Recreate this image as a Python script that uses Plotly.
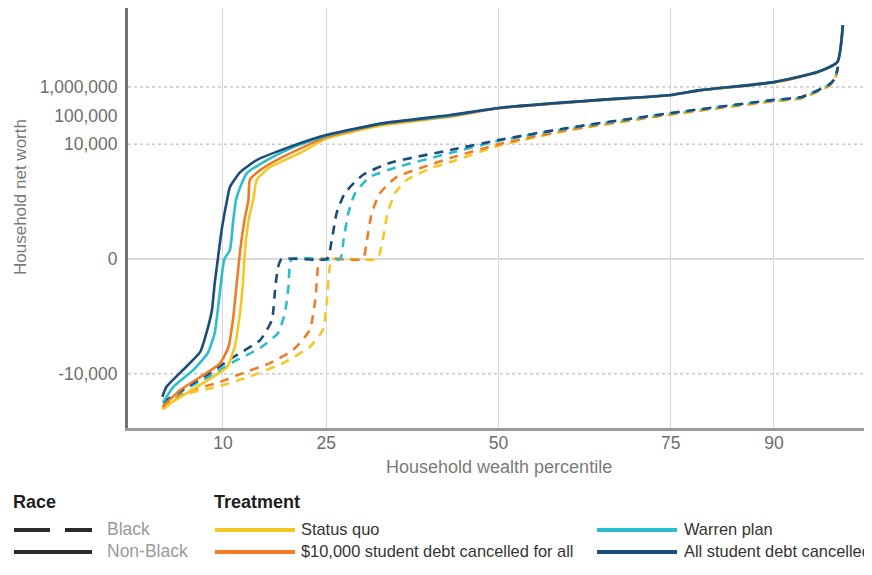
import numpy as np
import plotly.graph_objects as go

# ---------------- data (household net worth, dollars) ----------------
percentile_ticks = [10, 25, 50, 75, 90]
networth_ticks = [-10000, 0, 10000, 100000, 1000000]
networth_tick_labels = ["-10,000", "0", "10,000", "100,000", "1,000,000"]

treatments = ["Status quo", "$10,000 student debt cancelled for all",
              "Warren plan", "All student debt cancelled"]
colors = ["#F3C823", "#EE7D26", "#2BBDCB", "#1C4C7A"]

# Non-Black households (solid lines)
sq_nb_x = [1.2, 4.8, 8.6, 10.6, 11.7, 12.4, 12.9, 13.2, 13.8, 14.4, 14.9, 16.8, 21.2, 25, 33, 43, 50, 64.7, 75, 79.3, 90, 96.3, 99.2, 100]
sq_nb_y = [-158500, -46800, -12600, -5890, -1170, -104, -5.9, 1, 28, 115, 575, 1580, 5000, 15800, 45700, 91200,
           182000, 347000, 513000, 759000, 1445000, 3236000, 7244000, 144500000]

d10_nb_x = [1.2, 3.8, 7.6, 9.6, 10.8, 11.5, 12.0, 12.5, 13.2, 13.7, 13.9, 15.4, 18.7, 25, 33, 43, 50, 64.7, 75, 79.3, 90, 96.3, 99.2, 100]
d10_nb_y = [-144500, -37150, -9550, -4270, -1170, -104, -5.9, 1, 28, 115, 575, 1260, 3630, 17800, 50100, 95500,
            182000, 347000, 513000, 759000, 1445000, 3236000, 7244000, 144500000]

wa_nb_x = [1.3, 2.8, 5.7, 7.8, 8.8, 9.3, 9.8, 10.2, 11.0, 11.5, 11.9, 12.5, 13.5, 16.4, 20, 25, 33, 43, 50, 64.7, 75, 79.3, 90, 96.3, 99.2, 100]
wa_nb_y = [-100000, -28800, -7410, -1900, -379, -46, -3.3, 0, 1, 22, 115, 320, 1000, 2820, 7590, 20000, 52500, 100000,
           186000, 355000, 525000, 776000, 1479000, 3311000, 7413000, 144500000]

all_nb_x = [1.2, 1.8, 4.2, 6.7, 7.6, 8.4, 8.8, 9.3, 9.8, 10.6, 11.0, 12.5, 14.9, 19.7, 25.1, 33.3, 43, 50, 64.7, 75, 79.3, 90, 96.3, 99.2, 100]
all_nb_y = [-64600, -28800, -7410, -1740, -379, -59, -5.9, 0.2, 9, 115, 320, 1070, 2820, 8130, 21400, 55000, 104700,
            186000, 355000, 525000, 776000, 1479000, 3311000, 7413000, 144500000]

# Black households (dashed lines)
sq_b_x = [1.2, 4.2, 9.1, 13.9, 18.7, 22.6, 24.5, 25.1, 25.5, 25.9, 32.4, 33.2, 33.9, 35.0, 36.7, 40.5, 43, 50, 60, 75, 90, 94, 97.9, 98.8, 99.3]
sq_b_y = [-177800, -56200, -28800, -12600, -4270, -1170, -301, -26, -0.9, 0, 0, 3.6, 39, 200, 575, 1580, 2400, 8910,
          30200, 107200, 316000, 398000, 1047000, 1698000, 5012000]

d10_b_x = [1.3, 4.2, 9.1, 12.9, 16.8, 20.2, 22.6, 23.4, 23.8, 24.2, 30.3, 30.9, 31.6, 32.8, 35.2, 39, 43, 50, 60, 75, 90, 94, 97.9, 98.8, 99.3]
d10_b_y = [-158500, -46800, -21400, -9550, -4270, -1480, -301, -26, -0.9, 0, 0, 3.6, 39, 200, 720, 1580, 3310, 10000,
           31600, 112200, 331000, 417000, 1096000, 1778000, 5012000]

wa_b_x = [1.3, 4.5, 8.0, 11.5, 15.4, 18.0, 19.0, 19.5, 20.0, 27.0, 27.5, 28.2, 29.2, 31.3, 35.2, 43, 50, 60, 75, 90, 94, 97.9, 98.8, 99.3]
wa_b_y = [-112200, -35500, -12600, -3890, -1260, -379, -75, -8.5, 0, 0, 3.6, 39, 200, 720, 1580, 5000, 13200, 35500,
          120200, 347000, 437000, 1148000, 1862000, 5012000]

all_b_x = [1.3, 4.5, 8.0, 11.5, 15.4, 17.1, 17.6, 18.0, 18.5, 25.1, 25.8, 26.5, 27.7, 30.3, 34.2, 43, 50, 60, 75, 90, 94, 97.9, 98.8, 99.3]
all_b_y = [-100000, -31600, -10000, -2630, -675, -134, -8.5, -0.9, 0, 0, 3.6, 39, 200, 850, 2240, 6310, 14100, 37200,
           123000, 355000, 447000, 1175000, 1905000, 5012000]


def symlog(v):
    v = np.asarray(v, dtype=float)
    return np.sign(v) * np.log10(1 + np.abs(v))


black_series = [(sq_b_x, sq_b_y), (d10_b_x, d10_b_y), (wa_b_x, wa_b_y), (all_b_x, all_b_y)]
nonblack_series = [(sq_nb_x, sq_nb_y), (d10_nb_x, d10_nb_y), (wa_nb_x, wa_nb_y), (all_nb_x, all_nb_y)]

fig = go.Figure()
for (x, y), c, name in zip(black_series, colors, treatments):
    fig.add_trace(go.Scatter(x=x, y=symlog(y), mode="lines", name=name + " (Black)",
                             line=dict(color=c, width=2.6, dash="9px,7px", shape="spline", smoothing=0.5),
                             showlegend=False))
for (x, y), c, name in zip(nonblack_series, colors, treatments):
    fig.add_trace(go.Scatter(x=x, y=symlog(y), mode="lines", name=name + " (Non-Black)",
                             line=dict(color=c, width=2.6, shape="spline", smoothing=0.5),
                             showlegend=False))

# horizontal gridlines
shapes = []
for v in networth_ticks:
    if v == 100000:
        continue
    yv = float(symlog([v])[0])
    shapes.append(dict(type="line", xref="paper", yref="y", x0=0, x1=1, y0=yv, y1=yv, layer="below",
                       line=dict(color="#cfcfcf" if v == 0 else "#c9c9c9", width=1.5,
                                 dash="solid" if v == 0 else "dot")))

# legend (drawn manually); page is offset by the 8px body margin
FONT = "Liberation Sans, Arial, sans-serif"
ML, MT, MR, MB = 120, 0, 8, 155
PW, PH = 872 - ML - MR, 575 - MT - MB


def px(sx):
    return (sx - 8 - ML) / PW


def py(sy):
    return (MT + PH - (sy - 8)) / PH


shapes += [
    dict(type="line", xref="paper", yref="paper", x0=px(14), x1=px(50), y0=py(530), y1=py(530), line=dict(color="#2a2a2a", width=4)),
    dict(type="line", xref="paper", yref="paper", x0=px(65), x1=px(92), y0=py(530), y1=py(530), line=dict(color="#2a2a2a", width=4)),
    dict(type="line", xref="paper", yref="paper", x0=px(14), x1=px(92), y0=py(552), y1=py(552), line=dict(color="#2a2a2a", width=4)),
]
legend_pos = [(215, 530), (215, 552), (597, 530), (597, 552)]
for (lx, ly), c in zip(legend_pos, colors):
    shapes.append(dict(type="line", xref="paper", yref="paper", x0=px(lx), x1=px(lx + 80), y0=py(ly), y1=py(ly),
                       line=dict(color=c, width=4)))

annotations = [
    dict(text="<b>Race</b>", x=px(11), y=py(502), xref="paper", yref="paper", xanchor="left", yanchor="middle",
         showarrow=False, font=dict(size=18, color="#1e1e1e", family=FONT)),
    dict(text="<b>Treatment</b>", x=px(212), y=py(502), xref="paper", yref="paper", xanchor="left", yanchor="middle",
         showarrow=False, font=dict(size=18, color="#1e1e1e", family=FONT)),
    dict(text="Black", x=px(105), y=py(529), xref="paper", yref="paper", xanchor="left", yanchor="middle",
         showarrow=False, font=dict(size=17.5, color="#9a9a9a", family=FONT)),
    dict(text="Non-Black", x=px(105), y=py(551), xref="paper", yref="paper", xanchor="left", yanchor="middle",
         showarrow=False, font=dict(size=17.5, color="#9a9a9a", family=FONT)),
    dict(text="Household net worth", x=px(21), y=py(197), xref="paper", yref="paper", xanchor="center",
         yanchor="middle", textangle=-90, showarrow=False, font=dict(size=17, color="#7a7a7a", family=FONT)),
    dict(text="Household wealth percentile", x=px(499), y=py(467), xref="paper", yref="paper", xanchor="center",
         yanchor="middle", showarrow=False, font=dict(size=18, color="#7a7a7a", family=FONT)),
]
text_pos = [(299, 529), (299, 551), (682, 529), (682, 551)]
for (tx, ty), name in zip(text_pos, treatments):
    annotations.append(dict(text=name, x=px(tx), y=py(ty), xref="paper", yref="paper", xanchor="left",
                            yanchor="middle", showarrow=False, font=dict(size=16.4, color="#333333", family=FONT)))

fig.update_layout(
    width=872, height=575,
    margin=dict(l=ML, r=MR, t=MT, b=MB, pad=0, autoexpand=False),
    paper_bgcolor="white", plot_bgcolor="white",
    font=dict(family=FONT, color="#6d6d6d", size=16),
    shapes=shapes, annotations=annotations,
    showlegend=False,
)
fig.update_xaxes(range=[-3.79, 104.23], tickvals=percentile_ticks, ticktext=[str(t) for t in percentile_ticks],
                 showgrid=True, gridcolor="#d6d6d6", gridwidth=1, zeroline=False, automargin=False,
                 showline=True, linecolor="#9b9b9b", linewidth=3,
                 ticks="", ticklabelstandoff=-3,
                 tickfont=dict(size=17.5, color="#6d6d6d", family=FONT))
fig.update_yaxes(range=[-5.895, 8.755], tickvals=list(symlog(networth_ticks)), ticktext=networth_tick_labels,
                 showgrid=False, zeroline=False, automargin=False,
                 showline=True, linecolor="#727272", linewidth=3,
                 ticks="outside", ticklen=4, tickcolor="rgba(0,0,0,0)",
                 tickfont=dict(size=17.5, color="#6d6d6d", family=FONT))

fig.write_html("out.html")
